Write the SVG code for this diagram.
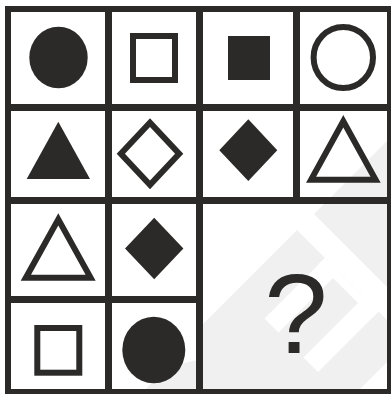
<svg xmlns="http://www.w3.org/2000/svg" width="391" height="394" viewBox="0 0 391 394">
<defs>
<style>
.ink{fill:#2b2a28}
.hollow{fill:none;stroke:#2b2a28;stroke-width:6}
.ring{fill:#2b2a28;fill-rule:evenodd}
.grid{fill:none;stroke:#2b2a28;stroke-linecap:butt}
.wm{fill:#f0f0f0}
.wmw{fill:#ffffff}
.q{font-family:"Liberation Sans",Arial,sans-serif;font-size:114px;fill:#2b2a28;text-anchor:middle}
</style>
<clipPath id="c42"><rect x="100" y="300" width="99" height="94"/></clipPath>
</defs>
<rect width="391" height="394" fill="#ffffff"/>
<g id="watermark">
<polygon class="wm" points="392,136 314,214 392,292"/>
<polygon class="wm" points="297,230 408,341 355,394 199,394 199,328"/>
<circle class="wm" cx="205" cy="435" r="75" clip-path="url(#c42)"/>
<polygon class="wmw" points="325,258 339,272 278.5,332.5 264.5,318.5"/>
<polygon class="wmw" points="364,297 378.5,311.5 318,372 303.5,357.5"/>
<polygon class="wmw" points="319,264 325,258 378.5,311.5 372.5,317.5"/>
</g>
<g id="grid">
<rect class="grid" x="8" y="9" width="382" height="383" stroke-width="6"/>
<line class="grid" x1="108.5" y1="9" x2="108.5" y2="392" stroke-width="7"/>
<line class="grid" x1="199.5" y1="9" x2="199.5" y2="392" stroke-width="7"/>
<line class="grid" x1="296.5" y1="9" x2="296.5" y2="200.5" stroke-width="7"/>
<line class="grid" x1="8" y1="107.5" x2="390" y2="107.5" stroke-width="7"/>
<line class="grid" x1="8" y1="200.5" x2="390" y2="200.5" stroke-width="7"/>
<line class="grid" x1="8" y1="299.5" x2="199.5" y2="299.5" stroke-width="7"/>
</g>
<g id="r1c1"><ellipse class="ink" cx="58.5" cy="57.5" rx="29.2" ry="30.8"/></g>
<g id="r1c2"><rect class="hollow" x="133" y="36" width="42" height="44"/></g>
<g id="r1c3"><rect class="ink" x="228" y="36" width="42" height="44"/></g>
<g id="r1c4"><ellipse class="hollow" cx="343.3" cy="57.5" rx="29.7" ry="30.5"/></g>
<g id="r2c1"><polygon class="ink" points="58.3,121.7 90,179 26.7,179"/></g>
<g id="r2c2"><path class="ring" d="M150,118.3 L183.3,153.8 L150,189.3 L116.7,153.8 Z M150,127.1 L124.9,153.8 L150,180.5 L175.1,153.8 Z"/></g>
<g id="r2c3"><polygon class="ink" points="248.3,119.3 277.3,150.2 248.3,181 219.3,150.2"/></g>
<g id="r2c4"><path class="ring" d="M343.3,115 L380.7,182.7 L306,182.7 Z M343.3,127.4 L316.1,176.7 L370.5,176.7 Z"/></g>
<g id="r3c1"><path class="ring" d="M58.3,213.3 L95.7,280.7 L20.7,280.7 Z M58.3,225.6 L31,274.7 L85.6,274.7 Z"/></g>
<g id="r3c2"><polygon class="ink" points="154.2,217.7 183.4,248.5 154.2,279.3 125,248.5"/></g>
<g id="r4c1"><rect class="hollow" x="37.3" y="328" width="42" height="44.7"/></g>
<g id="r4c2"><ellipse class="ink" cx="153.8" cy="350" rx="31.5" ry="33.3"/></g>
<g id="answer"><text class="q" x="296" y="353">?</text></g>
</svg>
